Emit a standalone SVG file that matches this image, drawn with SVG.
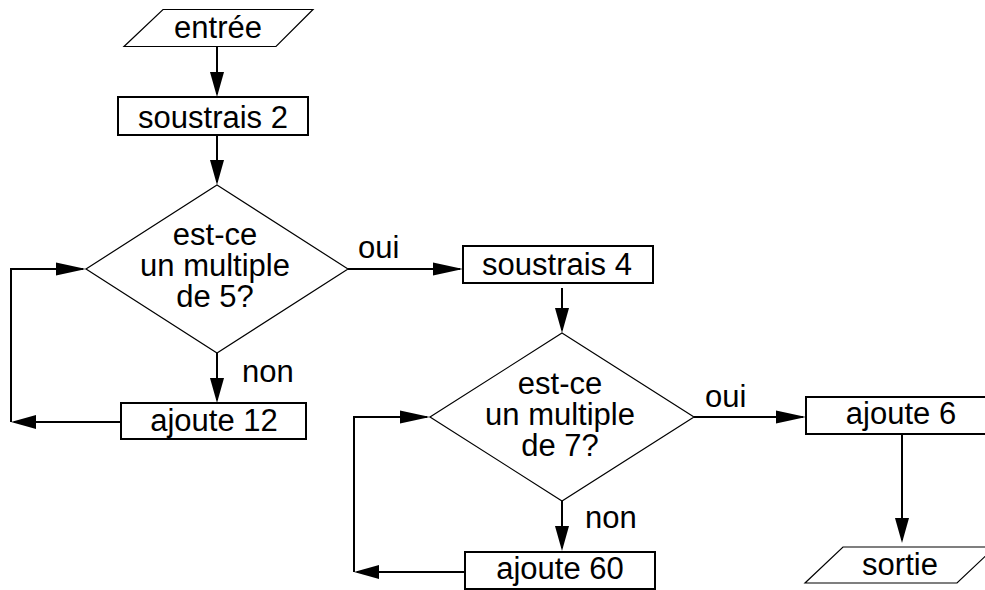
<svg xmlns="http://www.w3.org/2000/svg" width="985" height="590" viewBox="0 0 985 590">
  <defs>
    <style>
      .box { fill: #fff; stroke: #000; stroke-width: 2; }
      .thin { fill: #fff; stroke: #000; stroke-width: 1.2; }
      .wire { fill: none; stroke: #000; stroke-width: 2; }
      text { font-family: "Liberation Sans", Arial, Helvetica, sans-serif; font-size: 31px; fill: #000; }
      .c { text-anchor: middle; }
    </style>
    <!-- short head for vertical / leftward arrows -->
    <marker id="head" markerUnits="userSpaceOnUse" markerWidth="25" markerHeight="14" refX="22" refY="7" orient="auto">
      <path d="M0,0 L25,7 L0,14 z" fill="#000"/>
    </marker>
    <!-- long head for rightward arrows into decisions and boxes -->
    <marker id="headLong" markerUnits="userSpaceOnUse" markerWidth="30" markerHeight="14" refX="27" refY="7" orient="auto">
      <path d="M0,0.5 L30,7 L0,13.5 z" fill="#000"/>
    </marker>
  </defs>

  <rect width="985" height="590" fill="#fff"/>

  <g id="connectors">
    <path class="wire" d="M217,47 V94" marker-end="url(#head)"/>
    <path class="wire" d="M217,135 V182" marker-end="url(#head)"/>
    <path class="wire" d="M348,269 H460" marker-end="url(#headLong)"/>
    <path class="wire" d="M217,353 V400" marker-end="url(#head)"/>
    <path class="wire" d="M121,422 H14" marker-end="url(#head)"/>
    <path class="wire" d="M11,422 V269 H83" marker-end="url(#headLong)"/>
    <path class="wire" d="M562,288 V330" marker-end="url(#head)"/>
    <path class="wire" d="M694,417 H803" marker-end="url(#headLong)"/>
    <path class="wire" d="M562,501 V548" marker-end="url(#head)"/>
    <path class="wire" d="M465,572 H357" marker-end="url(#head)"/>
    <path class="wire" d="M354,572 V417 H427" marker-end="url(#headLong)"/>
    <path class="wire" d="M902,434 V540" marker-end="url(#head)"/>
    <text x="358" y="258">oui</text>
    <text x="242" y="382">non</text>
    <text x="705" y="407">oui</text>
    <text x="585" y="528">non</text>
  </g>

  <g id="entree">
    <polygon class="thin" points="163,9.5 313,9.5 276,46.5 124,46.5"/>
    <text class="c" x="218" y="38">entrée</text>
  </g>

  <g id="soustrais2">
    <rect class="box" x="118" y="97" width="190" height="38"/>
    <text class="c" x="213" y="128">soustrais 2</text>
  </g>

  <g id="multiple5">
    <polygon class="thin" points="217,185 348,269 217,353 86,269"/>
    <text class="c" x="215" y="245">est-ce</text>
    <text class="c" x="215" y="276">un multiple</text>
    <text class="c" x="215" y="307">de 5?</text>
  </g>

  <g id="ajoute12">
    <rect class="box" x="121" y="403" width="185" height="36"/>
    <text class="c" x="214" y="431">ajoute 12</text>
  </g>

  <g id="soustrais4">
    <rect class="box" x="463" y="246" width="190" height="37"/>
    <text class="c" x="557" y="275">soustrais 4</text>
  </g>

  <g id="multiple7">
    <polygon class="thin" points="562,333 694,417 562,501 430,417"/>
    <text class="c" x="560" y="394">est-ce</text>
    <text class="c" x="560" y="425">un multiple</text>
    <text class="c" x="560" y="456">de 7?</text>
  </g>

  <g id="ajoute60">
    <rect class="box" x="465" y="552" width="190" height="37"/>
    <text class="c" x="560" y="579">ajoute 60</text>
  </g>

  <g id="ajoute6">
    <rect class="box" x="806" y="397" width="190" height="37"/>
    <text class="c" x="901" y="424">ajoute 6</text>
  </g>

  <g id="sortie">
    <polygon class="thin" points="843,547 995,547 957,583 805,583"/>
    <text class="c" x="900" y="575">sortie</text>
  </g>
</svg>
